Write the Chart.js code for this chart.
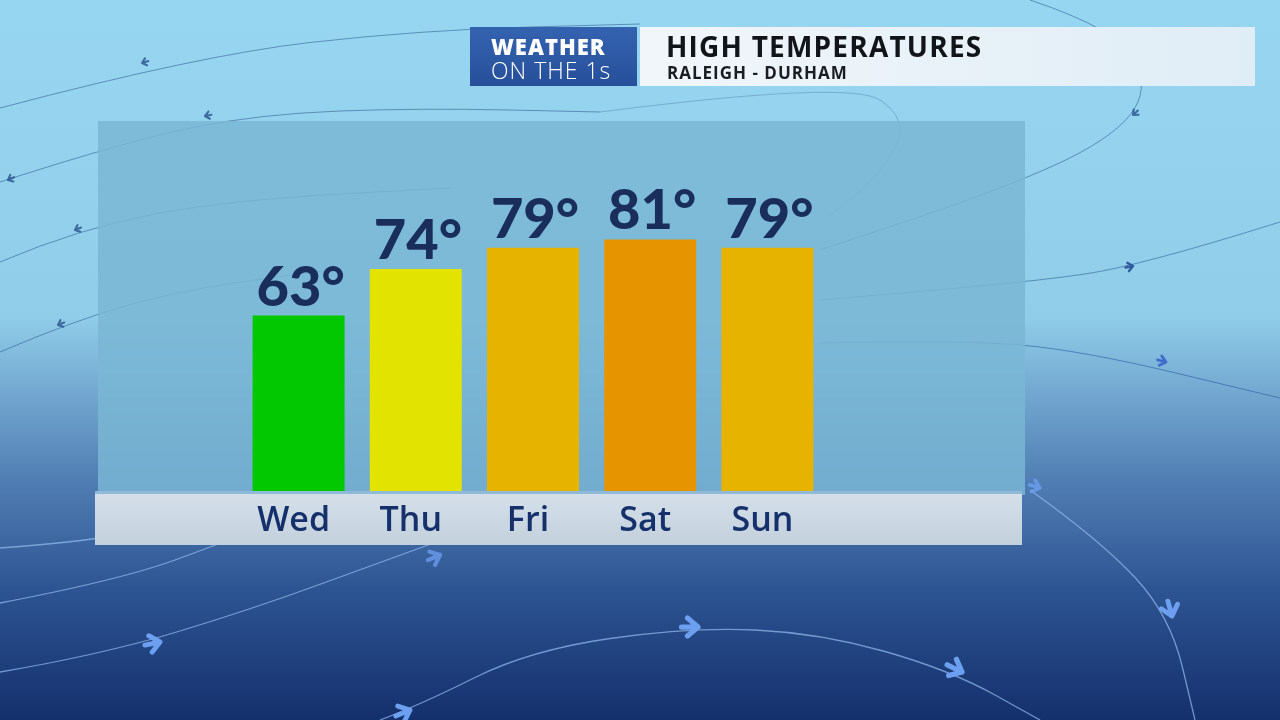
<!DOCTYPE html>
<html>
<head>
<meta charset="utf-8">
<title>High Temperatures - Raleigh - Durham</title>
<script src="https://cdn.jsdelivr.net/npm/chart.js@4.4.1/dist/chart.umd.min.js"></script>
<style>
  html, body { margin: 0; padding: 0; background: #16336e; }
  #wrap { width: 1280px; height: 720px; }
</style>
</head>
<body>
<div id="wrap"><canvas id="myChart" width="1280" height="720"></canvas></div>
<script>
// datos del grafico
const dias = ["Wed", "Thu", "Fri", "Sat", "Sun"];
const maximas = [63, 74, 79, 81, 79];
const coloresBarras = ["#02c802", "#e2e300", "#e6b300", "#e69400", "#e6b300"];
const titulo = "HIGH TEMPERATURES";
const subtitulo = "RALEIGH - DURHAM";

// lineas decorativas del fondo (corrientes con flechas)
function trazarCurva(ctx, puntos, color, ancho) {
  ctx.save();
  ctx.strokeStyle = color;
  ctx.lineWidth = ancho;
  ctx.beginPath();
  ctx.moveTo(puntos[0][0], puntos[0][1]);
  for (let i = 1; i < puntos.length - 1; i++) {
    const mx = (puntos[i][0] + puntos[i + 1][0]) / 2;
    const my = (puntos[i][1] + puntos[i + 1][1]) / 2;
    ctx.quadraticCurveTo(puntos[i][0], puntos[i][1], mx, my);
  }
  const ult = puntos[puntos.length - 1];
  ctx.lineTo(ult[0], ult[1]);
  ctx.stroke();
  ctx.restore();
}

function flecha(ctx, x, y, ang, tam, color) {
  ctx.save();
  ctx.translate(x, y);
  ctx.rotate(ang);
  ctx.strokeStyle = color;
  ctx.lineWidth = tam * 0.35;
  ctx.lineCap = "round";
  ctx.lineJoin = "round";
  ctx.beginPath();
  ctx.moveTo(-tam * 0.7, -tam * 0.6);
  ctx.lineTo(0, 0);
  ctx.lineTo(-tam * 0.7, tam * 0.6);
  ctx.moveTo(-tam * 1.1, 0);
  ctx.lineTo(0, 0);
  ctx.stroke();
  ctx.restore();
}

const fondoPlugin = {
  id: "fondo",
  beforeDraw(chart) {
    const ctx = chart.ctx;
    const w = chart.width, h = chart.height;
    ctx.save();
    const g = ctx.createLinearGradient(0, 0, 0, h);
    g.addColorStop(0, "#97d6f0");
    g.addColorStop(0.44, "#90cde9");
    g.addColorStop(0.55, "#72a6cf");
    g.addColorStop(0.66, "#5280b5");
    g.addColorStop(0.82, "#2d5492");
    g.addColorStop(1, "#14306c");
    ctx.fillStyle = g;
    ctx.fillRect(0, 0, w, h);

    // corrientes superiores (oscuras y finas)
    const oscuro = "rgba(40,85,140,0.55)";
    trazarCurva(ctx, [[0, 108], [200, 55], [420, 30], [640, 24]], oscuro, 1);
    trazarCurva(ctx, [[1030, 0], [1120, 30], [1150, 90], [1110, 140], [1000, 190], [820, 250]], oscuro, 1);
    trazarCurva(ctx, [[0, 182], [130, 140], [260, 114], [420, 108], [600, 112]], oscuro, 1);
    trazarCurva(ctx, [[600, 112], [850, 80], [910, 120], [880, 175], [830, 215]], "rgba(40,85,140,0.3)", 1);
    trazarCurva(ctx, [[0, 262], [80, 228], [230, 200], [450, 188]], oscuro, 1);
    trazarCurva(ctx, [[0, 352], [70, 322], [180, 290], [330, 270]], oscuro, 1);
    trazarCurva(ctx, [[1280, 222], [1140, 266], [1030, 282], [820, 300]], oscuro, 1);
    trazarCurva(ctx, [[820, 343], [960, 340], [1080, 350], [1280, 398]], "rgba(40,90,160,0.6)", 1);
    flecha(ctx, 142, 63, 2.85, 6, "rgba(40,80,140,0.8)");
    flecha(ctx, 8, 180, 2.7, 6, "rgba(40,80,140,0.8)");
    flecha(ctx, 205, 116, 2.95, 6, "rgba(40,80,140,0.8)");
    flecha(ctx, 75, 230, 2.75, 6, "rgba(40,80,140,0.8)");
    flecha(ctx, 58, 325, 2.75, 6, "rgba(40,80,140,0.8)");
    flecha(ctx, 1133, 266, -0.2, 7, "rgba(40,80,150,0.9)");
    flecha(ctx, 1133, 115, 2.4, 6, "rgba(40,80,140,0.8)");
    flecha(ctx, 1166, 362, 0.25, 8, "rgba(55,100,200,0.9)");

    // corrientes inferiores (claras con flechas grandes)
    const claro = "rgba(150,190,240,0.7)";
    trazarCurva(ctx, [[0, 672], [100, 655], [250, 610], [400, 555], [470, 530]], claro, 1.3);
    trazarCurva(ctx, [[0, 603], [120, 580], [230, 540], [300, 510]], claro, 1.3);
    trazarCurva(ctx, [[0, 548], [80, 542], [140, 530]], claro, 1.3);
    trazarCurva(ctx, [[380, 720], [420, 705], [530, 650], [690, 627], [820, 633], [950, 670], [1040, 720]], claro, 1.3);
    trazarCurva(ctx, [[1030, 490], [1100, 540], [1170, 615], [1195, 720]], claro, 1.3);
    const azulFlecha = "#6d9ff0";
    flecha(ctx, 160, 642, -0.2, 14, azulFlecha);
    flecha(ctx, 440, 555, -0.4, 12, "rgba(109,159,240,0.75)");
    flecha(ctx, 410, 710, -0.4, 14, azulFlecha);
    flecha(ctx, 698, 627, 0, 15, azulFlecha);
    flecha(ctx, 962, 672, 0.45, 15, azulFlecha);
    flecha(ctx, 1172, 616, 1.3, 14, azulFlecha);
    flecha(ctx, 1040, 488, 0.3, 10, "rgba(109,159,240,0.8)");

    // panel translucido detras de las barras
    ctx.fillStyle = "rgba(122,182,212,0.84)";
    ctx.fillRect(98, 121, 927, 374);

    // franja de los dias
    const gf = ctx.createLinearGradient(0, 493, 0, 545);
    gf.addColorStop(0, "#d4dfe9");
    gf.addColorStop(1, "#c3d1dd");
    ctx.fillStyle = gf;
    ctx.fillRect(95, 493, 927, 52);
    ctx.fillStyle = "#8fbbd8";
    ctx.fillRect(95, 491, 927, 3);

    // encabezado
    const gb = ctx.createLinearGradient(0, 27, 0, 86);
    gb.addColorStop(0, "#3463b0");
    gb.addColorStop(1, "#274f9a");
    ctx.fillStyle = gb;
    ctx.fillRect(470, 27, 167, 59);
    const gw = ctx.createLinearGradient(640, 0, 1255, 0);
    gw.addColorStop(0, "#f1f6fa");
    gw.addColorStop(1, "#dfedf6");
    ctx.fillStyle = gw;
    ctx.fillRect(640, 27, 615, 59);

    ctx.fillStyle = "#ffffff";
    ctx.textBaseline = "alphabetic";
    ctx.textAlign = "left";
    ctx.letterSpacing = "1px";
    ctx.font = "800 22px 'Open Sans'";
    ctx.fillText("WEATHER", 491, 55);
    ctx.font = "300 23px 'Open Sans'";
    ctx.fillText("ON THE 1s", 491, 79);

    ctx.fillStyle = "#111418";
    ctx.letterSpacing = "1.2px";
    ctx.font = "bold 28px 'Open Sans'";
    ctx.fillText(titulo, 666, 57);
    ctx.fillStyle = "#1a1d22";
    ctx.letterSpacing = "1px";
    ctx.font = "bold 17px 'Open Sans'";
    ctx.fillText(subtitulo, 667, 79);
    ctx.restore();
  }
};

// etiquetas de valor encima de cada barra
const valoresPlugin = {
  id: "valores",
  afterDatasetsDraw(chart) {
    const ctx = chart.ctx;
    const meta = chart.getDatasetMeta(0);
    ctx.save();
    ctx.fillStyle = "#1a2e5c";
    ctx.font = "900 56px Lato";
    ctx.textAlign = "center";
    ctx.textBaseline = "alphabetic";
    meta.data.forEach((bar, i) => {
      ctx.fillText(maximas[i] + "°", bar.x + 2, bar.y - 10);
    });
    ctx.restore();
  }
};

const ctx = document.getElementById("myChart").getContext("2d");
new Chart(ctx, {
  type: "bar",
  data: {
    labels: dias,
    datasets: [{
      label: titulo,
      data: maximas,
      backgroundColor: coloresBarras,
      borderWidth: 0,
      barPercentage: 0.785,
      categoryPercentage: 1
    }]
  },
  options: {
    responsive: false,
    devicePixelRatio: 1,
    animation: false,
    layout: { padding: { left: 240, right: 454, top: 121, bottom: 0 } },
    plugins: {
      legend: { display: false },
      tooltip: { enabled: false },
      title: { display: false }
    },
    scales: {
      x: {
        border: { display: false },
        grid: { display: false, drawTicks: false },
        ticks: {
          color: "#15306a",
          font: { family: "'Open Sans'", size: 34, weight: "600" },
          padding: 10,
          labelOffset: -5
        },
        afterFit(axis) { axis.height = 229; }
      },
      y: {
        display: false,
        min: 21.5,
        max: 109
      }
    }
  },
  plugins: [fondoPlugin, valoresPlugin]
});
</script>
</body>
</html>
